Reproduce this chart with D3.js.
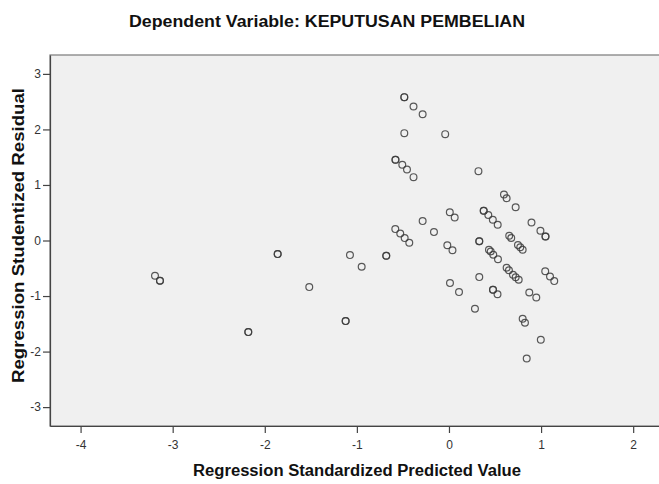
<!DOCTYPE html>
<html>
<head>
<meta charset="utf-8">
<script src="https://cdn.jsdelivr.net/npm/d3@7"></script>
<style>
  html, body { margin: 0; padding: 0; background: #ffffff; }
  svg { display: block; font-family: "Liberation Sans", Arial, sans-serif; }
</style>
</head>
<body>
<svg id="chart" width="659" height="484"></svg>
<script>
// ---- Data ----
const chartTitle = "Dependent Variable: KEPUTUSAN PEMBELIAN";
const xAxisTitle = "Regression Standardized Predicted Value";
const yAxisTitle = "Regression Studentized Residual";
const xTicks = [-4, -3, -2, -1, 0, 1, 2];
const yTicks = [-3, -2, -1, 0, 1, 2, 3];

// Regression standardized predicted value
const predicted = [
  -3.192, -3.138, -3.138, -2.179, -2.179, -1.860, -1.860, -1.517, -1.122, -1.122,
  -1.075, -0.948, -0.681, -0.681, -0.583, -0.529, -0.481, -0.431, -0.485, -0.485,
  -0.385, -0.286, -0.485, -0.041, -0.581, -0.581, -0.507, -0.456, -0.385, 0.320,
  -0.286, -0.163, 0.009, 0.062, -0.018, 0.038, 0.011, 0.109, 0.282, 0.329,
  0.329, 0.329, 0.377, 0.377, 0.427, 0.476, 0.529, 0.597, 0.626, 0.724,
  0.896, 0.993, 1.048, 1.048, 0.654, 0.676, 0.749, 0.774, 0.800, 0.434,
  0.453, 0.481, 0.532, 0.626, 0.651, 0.695, 0.724, 0.757, 1.045, 1.097,
  1.143, 0.478, 0.478, 0.527, 0.872, 0.948, 0.800, 0.825, 0.997, 0.844
];
// Regression studentized residual
const residual = [
  -0.635, -0.725, -0.725, -1.649, -1.649, -0.245, -0.245, -0.839, -1.451, -1.451,
  -0.263, -0.473, -0.275, -0.275, 0.205, 0.126, 0.043, -0.041, 2.581, 2.581,
  2.412, 2.272, 1.933, 1.915, 1.453, 1.453, 1.363, 1.278, 1.141, 1.249,
  0.349, 0.151, 0.508, 0.414, -0.086, -0.176, -0.767, -0.929, -1.230, -0.659,
  -0.014, -0.014, 0.535, 0.535, 0.459, 0.373, 0.283, 0.828, 0.760, 0.598,
  0.324, 0.175, 0.072, 0.072, 0.085, 0.045, -0.083, -0.122, -0.167, -0.167,
  -0.198, -0.257, -0.338, -0.491, -0.536, -0.617, -0.662, -0.707, -0.554, -0.648,
  -0.731, -0.887, -0.887, -0.969, -0.936, -1.026, -1.410, -1.482, -1.788, -2.124
];

// ---- Layout ----
const plot = { left: 50, top: 55, right: 662, bottom: 426 };
const svg = d3.select("#chart");

const x = d3.scaleLinear().domain([-4.332, 2.313]).range([plot.left, plot.right]);
const y = d3.scaleLinear().domain([-3.34, 3.34]).range([plot.bottom, plot.top]);

// Title
svg.append("text")
  .attr("x", 327).attr("y", 27)
  .attr("text-anchor", "middle")
  .attr("font-size", 16).attr("font-weight", "bold").attr("fill", "#111")
  .attr("textLength", 396).attr("lengthAdjust", "spacingAndGlyphs")
  .text(chartTitle);

// Plot background
svg.append("rect")
  .attr("x", plot.left).attr("y", plot.top)
  .attr("width", plot.right - plot.left).attr("height", plot.bottom - plot.top)
  .attr("fill", "#f0f0f0").attr("stroke", "#7a7a7a").attr("stroke-width", 1.2);

// Axes (hyphen-minus labels as in the original)
const fmt = d => String(d);
const xAxis = d3.axisBottom(x).tickValues(xTicks).tickFormat(fmt).tickSize(7).tickSizeOuter(0);
const yAxis = d3.axisLeft(y).tickValues(yTicks).tickFormat(fmt).tickSize(7).tickSizeOuter(0);

const gx = svg.append("g").attr("transform", `translate(0,${plot.bottom})`).call(xAxis);
const gy = svg.append("g").attr("transform", `translate(${plot.left},0)`).call(yAxis);

[gx, gy].forEach(g => {
  g.select(".domain").attr("stroke", "#444").attr("stroke-width", 1.2);
  g.selectAll(".tick line").attr("stroke", "#444").attr("stroke-width", 1.2);
  g.selectAll(".tick text")
    .attr("font-family", "'Liberation Sans', Arial, sans-serif")
    .attr("font-size", 12).attr("fill", "#333");
});
gx.selectAll(".tick text").attr("dy", "1.1em");
gy.selectAll(".tick text").attr("x", -9);

// Axis titles
svg.append("text")
  .attr("x", 357).attr("y", 476)
  .attr("text-anchor", "middle")
  .attr("font-size", 16).attr("font-weight", "bold").attr("fill", "#111")
  .attr("textLength", 328).attr("lengthAdjust", "spacingAndGlyphs")
  .text(xAxisTitle);

svg.append("text")
  .attr("transform", `translate(24,235.5) rotate(-90)`)
  .attr("text-anchor", "middle")
  .attr("font-size", 16).attr("font-weight", "bold").attr("fill", "#111")
  .attr("textLength", 295).attr("lengthAdjust", "spacingAndGlyphs")
  .text(yAxisTitle);

// Points
const pts = predicted.map((p, i) => ({ p, r: residual[i] }));
svg.append("g")
  .selectAll("circle")
  .data(pts)
  .join("circle")
  .attr("cx", d => x(d.p))
  .attr("cy", d => y(d.r))
  .attr("r", 3.4)
  .attr("fill", "none")
  .attr("stroke", "#3c3c3c")
  .attr("stroke-opacity", 0.85)
  .attr("stroke-width", 1.2);
</script>
</body>
</html>
